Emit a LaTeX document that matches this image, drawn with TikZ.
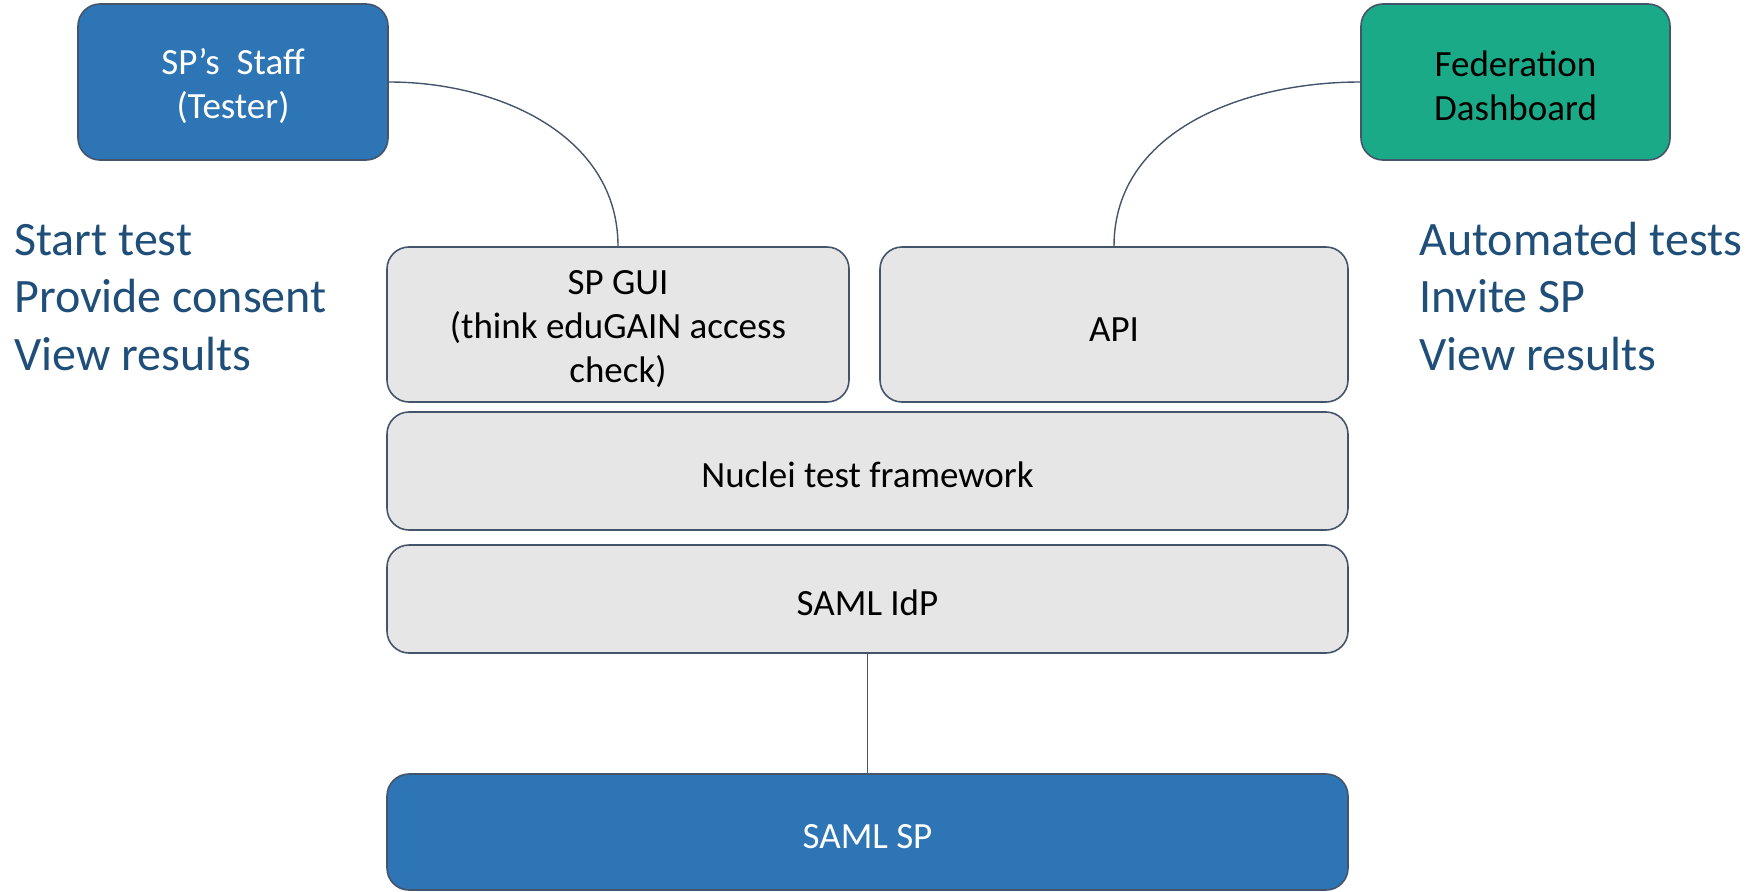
\documentclass[tikz,border=0pt]{standalone}
\usepackage{fontspec}
\setmainfont{Carlito}
\definecolor{boxblue}{HTML}{2E75B6}
\definecolor{boxgreen}{HTML}{1BAA87}
\definecolor{boxgray}{HTML}{E7E6E6}
\definecolor{edge}{HTML}{44546A}
\definecolor{txtblue}{HTML}{1F4E79}
\newcommand{\topstrut}{\rule{0pt}{34pt}}
\begin{document}
\begin{tikzpicture}[x=1pt,y=-1pt,
  box/.style={draw=edge, line width=1.6pt, rounded corners=22pt, align=center, inner sep=0pt,
    font=\fontsize{37}{44}\selectfont},
  bluebox/.style={box, fill=boxblue, text=white},
  greenbox/.style={box, fill=boxgreen, text=black},
  graybox/.style={box, fill=boxgray, text=black},
  link/.style={draw=edge, line width=1.4pt},
  sidetext/.style={anchor=base west, align=left, inner sep=0pt, text=txtblue,
    font=\fontsize{48}{57.6}\selectfont}]
\useasboundingbox (0,0) rectangle (1760,891);
\node[bluebox, minimum width=310pt, minimum height=156pt] (staff) at (233,82) {\topstrut SP’s\ \ Staff\\(Tester)};
\node[greenbox, minimum width=309pt, minimum height=156pt] (fed) at (1515.5,82) {\topstrut Federation\\Dashboard};
\node[graybox, minimum width=462pt, minimum height=155pt] (gui) at (618,324.5) {\topstrut SP GUI\\(think eduGAIN access\\check)};
\node[graybox, minimum width=468pt, minimum height=155pt] (api) at (1114,324.5) {\topstrut API};
\node[graybox, minimum width=961pt, minimum height=118pt] (nuclei) at (867.5,471) {\topstrut Nuclei test framework};
\node[graybox, minimum width=961pt, minimum height=108pt] (idp) at (867.5,599) {\topstrut SAML IdP};
\node[bluebox, minimum width=961pt, minimum height=116pt] (sp) at (867.5,832) {\topstrut SAML SP};
\node[sidetext] (lefttext) at (14,370.5) {Start test\\Provide consent\\View results};
\node[sidetext] (righttext) at (1419,370.5) {Automated tests\\Invite SP\\View results};
\draw[link] (staff.east) to[out=0,in=90] (gui.north);
\draw[link] (fed.west) to[out=180,in=90] (api.north);
\draw[link] (idp.south) -- (sp.north);
\end{tikzpicture}
\end{document}
